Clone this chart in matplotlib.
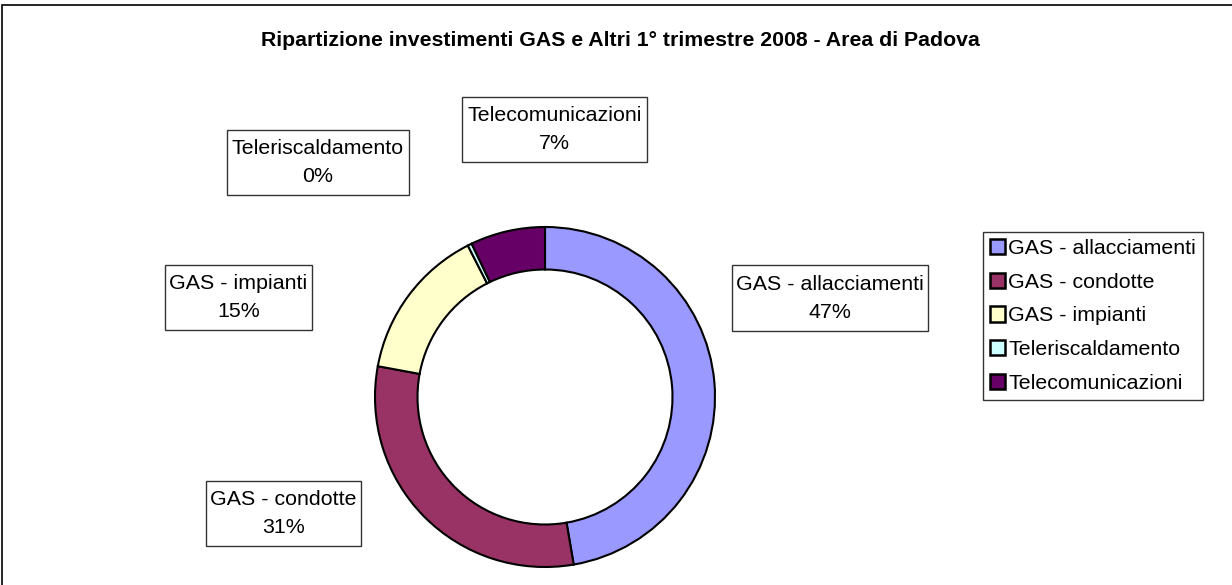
import matplotlib
matplotlib.use("Agg")
import matplotlib.pyplot as plt
from matplotlib.patches import Rectangle

plt.rcParams['font.family'] = ['Liberation Sans', 'DejaVu Sans']

# ---- data ----
categories = ["GAS - allacciamenti", "GAS - condotte", "GAS - impianti",
              "Teleriscaldamento", "Telecomunicazioni"]
values = [47.3, 30.6, 14.6, 0.4, 7.1]
colors = ["#9999FF", "#993366", "#FFFFCC", "#CCFFFF", "#660066"]
title = "Ripartizione investimenti GAS e Altri 1° trimestre 2008 - Area di Padova"

W, H = 1232, 585
fig = plt.figure(figsize=(W / 100, H / 100), dpi=100)

def fx(px):
    return px / W

def fy(py):
    return 1 - py / H

# outer chart frame
fig.patches.append(Rectangle((fx(2), fy(600)), fx(1240) - fx(2), fy(5) - fy(600),
                             transform=fig.transFigure, fill=False,
                             edgecolor="black", linewidth=1.2))

# donut axes
cx, cy, r = 545, 397, 170
ax = fig.add_axes([fx(cx - r), fy(cy + r), 2 * r / W, 2 * r / H])
wedges, _ = ax.pie(values, colors=colors, startangle=90, counterclock=False,
                   radius=1.0,
                   wedgeprops=dict(width=0.25, edgecolor="black", linewidth=1.5))
ax.set_xlim(-1.0, 1.0)
ax.set_ylim(-1.0, 1.0)
ax.set_aspect("auto")
ax.axis("off")

fig.text(fx(620), fy(40), title, ha="center", va="center",
         fontsize=15.3, fontweight="bold")

# label boxes (x0, y0, x1, y1) in pixels
boxes = [(732, 265, 928, 331), (206, 481, 361, 546), (165, 265, 312, 330),
         (227, 130, 409, 195), (462, 97, 647, 162)]
total = sum(values)
for name, v, (x0, y0, x1, y1) in zip(categories, values, boxes):
    fig.patches.append(Rectangle((fx(x0), fy(y1)), fx(x1) - fx(x0), fy(y0) - fy(y1),
                                 transform=fig.transFigure, facecolor="white",
                                 edgecolor="#333333", linewidth=1.0))
    fig.text(fx((x0 + x1) / 2), fy((y0 + y1) / 2),
             f"{name}\n{v / total * 100:.0f}%", ha="center", va="center",
             fontsize=15.4, linespacing=1.6)

leg = fig.legend(wedges, categories, loc="upper left",
                 bbox_to_anchor=(fx(983), fy(232)),
                 fontsize=15.4, frameon=True, fancybox=False,
                 handlelength=0.72, handleheight=0.72, handletextpad=0.14,
                 labelspacing=0.68, borderpad=0.33, borderaxespad=0)
leg.get_frame().set_edgecolor("black")
leg.get_frame().set_linewidth(1.0)
for h in leg.legend_handles:
    h.set_linewidth(1.8)

fig.savefig("out.png", dpi=100)
